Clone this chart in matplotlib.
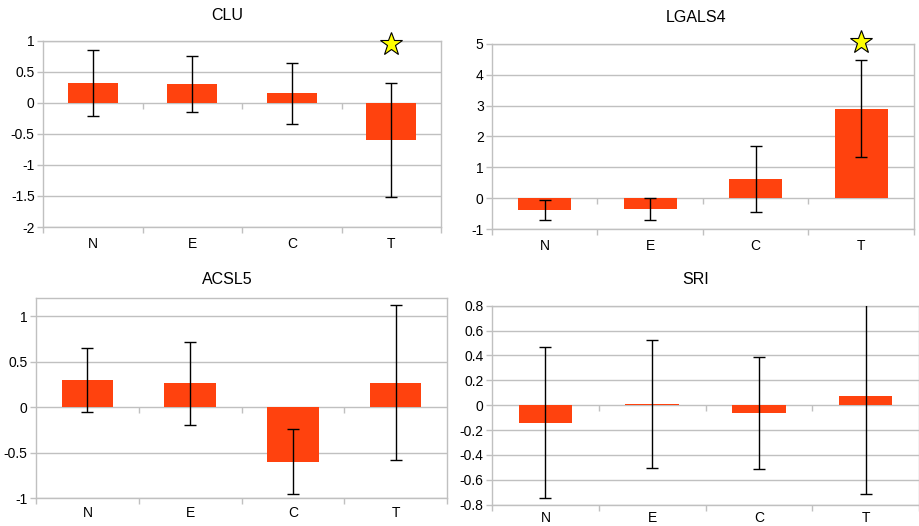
import matplotlib
matplotlib.use("Agg")
import matplotlib.pyplot as plt
from matplotlib.markers import TICKDOWN

plt.rcParams["font.family"] = ["Liberation Sans", "DejaVu Sans"]

CATS = ["N", "E", "C", "T"]

clu_vals = [0.31, 0.30, 0.15, -0.60]
clu_err = [0.53, 0.45, 0.49, 0.92]
lgals4_vals = [-0.38, -0.35, 0.63, 2.90]
lgals4_err = [0.33, 0.36, 1.06, 1.56]
acsl5_vals = [0.30, 0.26, -0.60, 0.27]
acsl5_err = [0.35, 0.46, 0.355, 0.85]
sri_vals = [-0.14, 0.008, -0.06, 0.07]
sri_err = [0.605, 0.515, 0.45, 0.78]

GRID = "#c0c0c0"
BAR = "#ff420e"

# (title, values, errors, ylim, yticks, star_y, ytick labels, axes rect px, title xy px, xlabel pad)
panels = [
    ("CLU", clu_vals, clu_err, (-2, 1), [-2, -1.5, -1, -0.5, 0, 0.5, 1],
     0.95, ["-2", "-1.5", "-1", "-0.5", "0", "0.5", "1"], (43, 40.5, 441, 227), (227, 15), 7),
    ("LGALS4", lgals4_vals, lgals4_err, (-1, 5), [-1, 0, 1, 2, 3, 4, 5],
     5.05, ["-1", "0", "1", "2", "3", "4", "5"], (492, 43.7, 914, 229.3), (696, 17), 7),
    ("ACSL5", acsl5_vals, acsl5_err, (-1, 1.2), [-1, -0.5, 0, 0.5, 1],
     None, ["-1", "-0.5", "0", "0.5", "1"], (36, 298, 447, 498), (227, 279), 6),
    ("SRI", sri_vals, sri_err, (-0.8, 0.8), [-0.8, -0.6, -0.4, -0.2, 0, 0.2, 0.4, 0.6, 0.8],
     None, ["-0.8", "-0.6", "-0.4", "-0.2", "0", "0.2", "0.4", "0.6", "0.8"],
     (492, 305.7, 919, 504.7), (696, 279), 4.5),
]

W, H = 919, 526
fig = plt.figure(figsize=(W / 100, H / 100), dpi=100)

for title, vals, errs, ylim, yticks, star_y, ylabels, (x0, y0, x1, y1), (tx, ty), xpad in panels:
    ax = fig.add_axes([x0 / W, 1 - y1 / H, (x1 - x0) / W, (y1 - y0) / H])
    x = list(range(len(CATS)))
    ax.set_axisbelow(True)
    ax.yaxis.grid(True, color=GRID, lw=1)
    ax.bar(x, vals, width=0.5, color=BAR, zorder=2)
    ax.errorbar(x, vals, yerr=errs, fmt="none", ecolor="black", elinewidth=1,
                capsize=4, capthick=1, zorder=3)
    if star_y is not None:
        ax.plot(3, star_y, marker="*", ms=17, mfc="#ffff00", mec="black", mew=0.8,
                clip_on=False, zorder=4)
    # small ticks on the zero line between categories
    ax.plot([0.5, 1.5, 2.5], [0, 0, 0], ls="none", marker=TICKDOWN, ms=4,
            color=GRID, mew=1, zorder=1)
    ax.set_xlim(-0.5, 3.5)
    ax.set_ylim(*ylim)
    ax.set_yticks(yticks)
    ax.set_yticklabels(ylabels)
    ax.set_xticks([-0.5, 0.5, 1.5, 2.5, 3.5])
    ax.set_xticklabels([])
    ax.set_xticks(x, minor=True)
    ax.set_xticklabels(CATS, minor=True)
    ax.tick_params(axis="x", which="major", length=4, color=GRID, width=1)
    ax.tick_params(axis="x", which="minor", length=0, pad=xpad, labelsize=10)
    ax.tick_params(axis="y", length=4, color=GRID, width=1, pad=2, labelsize=10)
    for s in ax.spines.values():
        s.set_color(GRID)
        s.set_linewidth(1)
    fig.text(tx / W, 1 - ty / H, title, ha="center", va="center", fontsize=11.5)

fig.savefig("out.png", dpi=100)
